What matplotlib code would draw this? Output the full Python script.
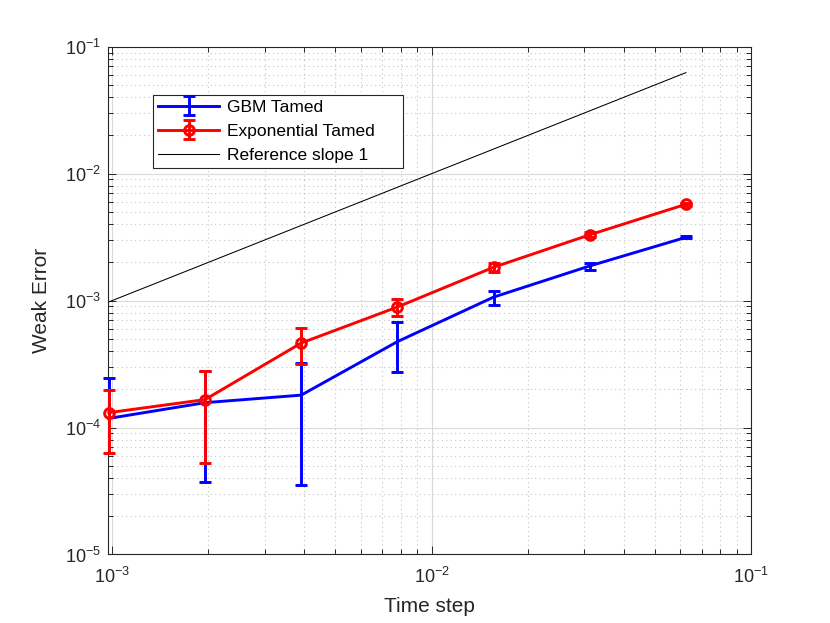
import numpy as np
import matplotlib
matplotlib.use("Agg")
import matplotlib.pyplot as plt
from matplotlib.ticker import LogLocator, NullFormatter
from matplotlib.legend_handler import HandlerErrorbar
from matplotlib.container import ErrorbarContainer

plt.rcParams['font.family'] = ['Liberation Sans', 'DejaVu Sans']
plt.rcParams['mathtext.fontset'] = 'custom'
plt.rcParams['mathtext.rm'] = 'Liberation Sans'
plt.rcParams['mathtext.default'] = 'regular'

# time steps 2^-10 .. 2^-4
dt = np.array([2**-10, 2**-9, 2**-8, 2**-7, 2**-6, 2**-5, 2**-4])

gbm_err = np.array([1.18e-4, 1.57e-4, 1.80e-4, 4.75e-4, 1.065e-3, 1.875e-3, 3.15e-3])
gbm_ci = np.array([1.27e-4, 1.20e-4, 1.45e-4, 2.00e-4, 1.35e-4, 1.20e-4, 0.6e-4])

exp_err = np.array([1.31e-4, 1.66e-4, 4.63e-4, 8.9e-4, 1.83e-3, 3.30e-3, 5.74e-3])
exp_ci = np.array([0.68e-4, 1.13e-4, 1.45e-4, 1.40e-4, 1.50e-4, 1.50e-4, 1.50e-4])

ref = dt  # slope 1

axcol = '#262626'
fig = plt.figure(figsize=(8.3, 6.23), dpi=100)
ax = fig.add_axes([0.13, 0.11, 0.775, 0.815])
ax.set_xscale('log')
ax.set_yscale('log')

# gbm: lower part of bar dropped where it would go negative (matlab does this on log axes)
ok = gbm_ci < gbm_err
lo = np.where(ok, gbm_ci, 0.0)
eb1 = ax.errorbar(dt, gbm_err, yerr=[lo, gbm_ci], fmt='-', color='b', lw=2.1,
                  elinewidth=2.1, capsize=4.3, capthick=2.1, clip_on=False,
                  label='GBM Tamed', zorder=3)
eb1[1][0].set_markevery(np.flatnonzero(ok).tolist())

eb2 = ax.errorbar(dt, exp_err, yerr=exp_ci, fmt='-o', color='r', lw=2.1,
                  elinewidth=2.1, capsize=4.3, capthick=2.1, ms=7, mew=2.1,
                  mfc='none', clip_on=False, label='Exponential Tamed', zorder=4)

refline, = ax.plot(dt, ref, color='k', lw=0.75, label='Reference slope 1', zorder=2)

ax.set_xlim(0.00097, 0.1)
ax.set_ylim(1e-5, 1e-1)

ax.xaxis.set_major_locator(LogLocator(base=10, numticks=10))
ax.yaxis.set_major_locator(LogLocator(base=10, numticks=10))
ax.xaxis.set_minor_locator(LogLocator(base=10, subs=np.arange(2, 10), numticks=20))
ax.yaxis.set_minor_locator(LogLocator(base=10, subs=np.arange(2, 10), numticks=20))
ax.xaxis.set_minor_formatter(NullFormatter())
ax.yaxis.set_minor_formatter(NullFormatter())

ax.grid(True, which='major', color='#dadada', lw=0.8, ls='-')
ax.grid(True, which='minor', color='#c4c4c4', lw=0.8, ls=(0, (1, 3)))
ax.set_axisbelow(True)

ax.tick_params(which='both', direction='in', top=True, right=True, colors=axcol,
               labelsize=13, labelcolor=axcol, width=0.7)
ax.tick_params(which='major', length=5.5)
ax.tick_params(which='minor', length=3.5)
ax.tick_params(axis='x', pad=9)
ax.tick_params(axis='y', pad=5)
for s in ax.spines.values():
    s.set_color(axcol)
    s.set_linewidth(0.8)

ax.set_xlabel('Time step', fontsize=15, color=axcol, labelpad=7)
ax.set_ylabel('Weak Error', fontsize=15, color=axcol, labelpad=10)

leg = ax.legend(handles=[eb1, eb2, refline], loc='upper left',
                bbox_to_anchor=(0.07, 0.7623, 0.388, 0.1434), mode='expand',
                borderaxespad=0, fancybox=False, framealpha=1, edgecolor=axcol,
                fontsize=12.5, handlelength=3.5, borderpad=0.3, labelspacing=0.5,
                handletextpad=0.45,
                handler_map={ErrorbarContainer: HandlerErrorbar(yerr_size=0.55)})
leg.get_frame().set_linewidth(0.8)

fig.savefig('out.png', dpi=100)
